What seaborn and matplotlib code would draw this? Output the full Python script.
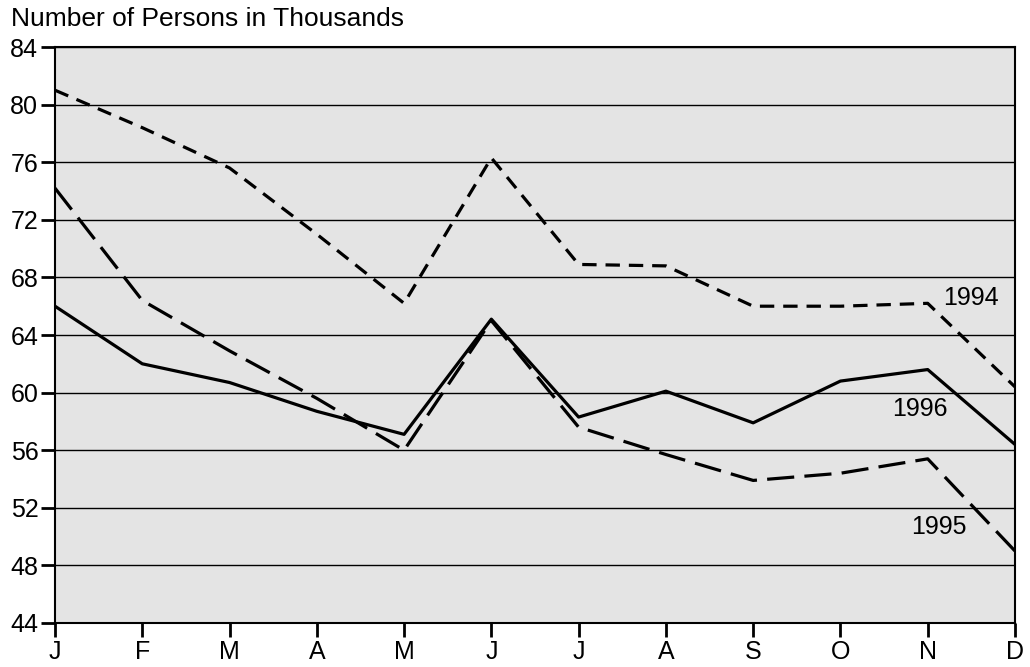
import numpy as np
import pandas as pd
import seaborn as sns
import matplotlib.pyplot as plt

months = ["J", "F", "M", "A", "M", "J", "J", "A", "S", "O", "N", "D"]
vals_1994 = [81.0, 78.4, 75.6, 71.0, 66.2, 76.3, 68.9, 68.8, 66.0, 66.0, 66.2, 60.4]
vals_1995 = [74.2, 66.4, 62.9, 59.6, 56.0, 65.0, 57.6, 55.7, 53.9, 54.4, 55.4, 49.0]
vals_1996 = [66.0, 62.0, 60.7, 58.7, 57.1, 65.1, 58.3, 60.1, 57.9, 60.8, 61.6, 56.4]

df = pd.DataFrame({
    "month": list(range(12)) * 3,
    "persons": vals_1994 + vals_1995 + vals_1996,
    "year": ["1994"] * 12 + ["1995"] * 12 + ["1996"] * 12,
})

sns.set_style("ticks")
plt.rcParams["font.family"] = ["Liberation Sans", "DejaVu Sans"]
plt.rcParams["text.color"] = "black"

fig = plt.figure(figsize=(10.3, 6.67), dpi=100)
ax = fig.add_axes([0.0534, 0.066, 0.932, 0.8635])
ax.set_facecolor("#e4e4e4")

sns.lineplot(data=df, x="month", y="persons", hue="year", style="year",
             palette={"1994": "black", "1995": "black", "1996": "black"},
             dashes={"1994": (4.5, 2.8), "1995": (8.5, 3.2), "1996": ""},
             linewidth=2.3, legend=False, ax=ax)

ax.set_xlim(0, 11)
ax.set_ylim(44, 84)
ax.set_yticks(np.arange(44, 85, 4))
ax.set_xticks(range(12))
ax.set_xticklabels(months)
ax.grid(axis="y", color="black", linewidth=1.0)
ax.set_axisbelow("line")
for s in ax.spines.values():
    s.set_visible(True)
    s.set_color("black")
    s.set_linewidth(1.5)
ax.tick_params(axis="both", which="major", direction="out", length=10,
               width=2, color="black", labelcolor="black",
               labelsize=18, pad=2)
ax.set_xlabel("")
ax.set_ylabel("")

ax.text(10.50, 66.6, "1994", fontsize=18, ha="center", va="center")
ax.text(9.91, 58.85, "1996", fontsize=18, ha="center", va="center")
ax.text(10.13, 50.7, "1995", fontsize=18, ha="center", va="center")

fig.text(0.011, 0.972, "Number of Persons in Thousands", fontsize=19,
         ha="left", va="center")

fig.savefig("out.png", dpi=100)
